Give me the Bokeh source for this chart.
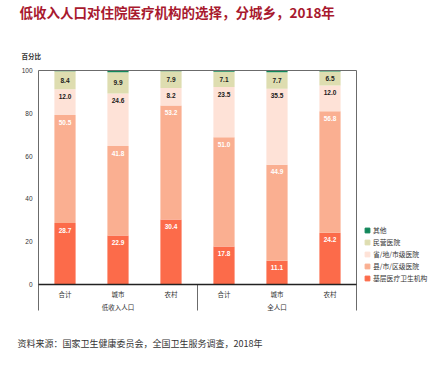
from bokeh.plotting import figure
from bokeh.models import Range1d, Legend, LegendItem, ColumnDataSource
from bokeh.core.properties import value
from bokeh.embed import file_html
from bokeh.resources import INLINE

# ---- data ----
title_text = "低收入人口对住院医疗机构的选择，分城乡，2018年"
groups = ["低收入人口", "全人口"]
subcats = ["合计", "城市", "农村"]
series = ["基层医疗卫生机构", "县/市/区级医院", "省/地/市级医院", "民营医院", "其他"]
base = [28.7, 22.9, 30.4, 17.8, 11.1, 24.2]
county = [50.5, 41.8, 53.2, 51.0, 44.9, 56.8]
province = [12.0, 24.6, 8.2, 23.5, 35.5, 12.0]
private = [8.4, 9.9, 7.9, 7.1, 7.7, 6.5]
other = [0.4, 0.8, 0.3, 0.6, 0.8, 0.5]
y_ticks = [0, 20, 40, 60, 80, 100]
y_label = "百分比"
source_note = "资料来源：国家卫生健康委员会，全国卫生服务调查，2018年"

# ---- style ----
colors = ["#FC6B4A", "#FAAF91", "#FEE2D7", "#DEDDB0", "#11875A"]
label_colors = ["white", "white", "#1a1a1a", "#1a1a1a"]
cjk = "Noto Sans CJK SC"
W, H = 429, 366
# plot box in pixels: left 38, right 356, top 70 (=100), zero line 284
PX = 53.0      # px per category unit
PY = 2.14      # px per percent
X0, Y0 = 38, 284

values = [base, county, province, private, other]
n = len(base)
xs = [i + 0.5 for i in range(n)]
ylow = -(310 - Y0) / PY


def dx(px):
    return (px - X0) / PX


def dy(py):
    return (Y0 - py) / PY


p = figure(width=W, height=H, output_backend="svg", toolbar_location=None,
           x_range=Range1d(dx(0), dx(W)), y_range=Range1d(dy(H), dy(0)),
           x_axis_type=None, y_axis_type=None, min_border=0)
p.outline_line_color = None
p.grid.visible = False
p.background_fill_color = "white"
p.border_fill_color = "white"

# stacked bars
keys = ["s%d" % i for i in range(len(series))]
data = {"x": xs}
for k, v in zip(keys, values):
    data[k] = v
src = ColumnDataSource(data)
p.vbar_stack(keys, x="x", width=0.4, color=colors, line_color=None, source=src)

# bar value labels
lx, ly, lt, lc = [], [], [], []
for j in range(n):
    bottom = 0.0
    for i in range(4):
        v = values[i][j]
        top = bottom + v
        lx.append(xs[j])
        ly.append(bottom + v / 2 if i == 3 else top - 3.3)
        lt.append("%.1f" % v)
        lc.append(label_colors[i])
        bottom = top
p.text(x=lx, y=ly, text=lt, text_color=lc, text_font=value("Liberation Sans"),
       text_font_style="bold", text_font_size="6.5px", text_align="center",
       text_baseline="middle")

# frame lines (left axis, top, right, group separator) and zero line
ymax = max(y_ticks)
p.segment(x0=[0, 0, n, len(subcats)], y0=[ylow, ymax, ylow, 0],
          x1=[0, n, n, len(subcats)], y1=[ymax, ymax, ymax, ylow],
          line_color="#6b6b6b", line_width=1)
p.segment(x0=[0], y0=[0], x1=[n], y1=[0], line_color="#222222", line_width=1.3)

# y tick labels
p.text(x=[dx(32)] * len(y_ticks), y=y_ticks, text=[str(t) for t in y_ticks],
       text_font=value("Liberation Sans"), text_font_size="6.5px", text_color="#333333",
       text_align="right", text_baseline="middle")

# category labels
cat_text = subcats * len(groups)
p.text(x=xs, y=[dy(293)] * n, text=cat_text, text_font=value(cjk), text_font_size="6.5px",
       text_color="#333333", text_align="center", text_baseline="middle")
gx = [len(subcats) * g + len(subcats) / 2 for g in range(len(groups))]
p.text(x=gx, y=[dy(306)] * len(groups), text=groups, text_font=value(cjk),
       text_font_size="6.5px", text_color="#333333", text_align="center",
       text_baseline="middle")

# title, axis title, source
p.text(x=[dx(19)], y=[dy(1)], text=[title_text], text_font=value(cjk),
       text_font_style="bold", text_font_size="13.5px", text_color="#A8192E",
       text_baseline="top")
p.text(x=[dx(21)], y=[dy(55)], text=[y_label], text_font=value(cjk),
       text_font_style="bold", text_font_size="6.5px", text_color="#333333",
       text_baseline="middle")
p.text(x=[dx(17)], y=[dy(342.5)], text=[source_note], text_font=value(cjk),
       text_font_size="9px", text_color="#333333", text_baseline="middle")

# legend (swatch renderers carry no visible point)
nan = float("nan")
items = []
for name, col in reversed(list(zip(series, colors))):
    r = p.scatter(x=[nan], y=[nan], marker="square", size=5, fill_color=col,
                  line_color=col)
    items.append(LegendItem(label=name, renderers=[r]))
legend = Legend(items=items, location=(361, H - 284), orientation="vertical", padding=0,
                spacing=0, glyph_width=12, glyph_height=12, label_height=12,
                label_standoff=0, border_line_color=None, background_fill_alpha=0,
                label_text_font=cjk, label_text_font_size="6.8px",
                label_text_color="#333333", margin=0)
p.add_layout(legend)

open("out.html", "w").write(file_html(p, INLINE))
